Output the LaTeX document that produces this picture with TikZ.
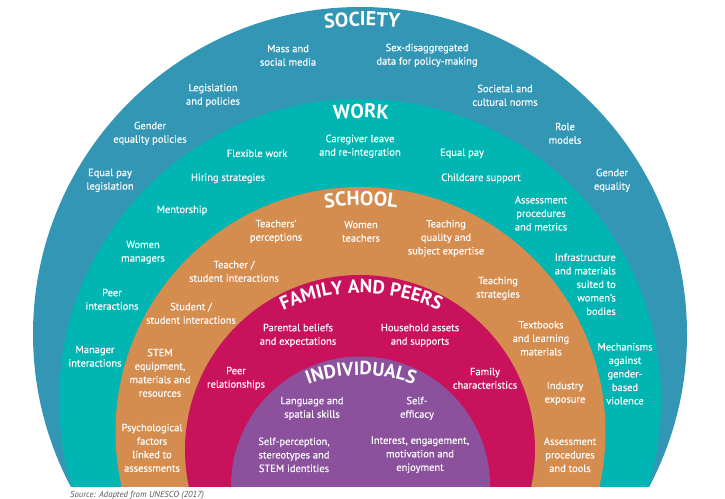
\documentclass[tikz,border=0pt]{standalone}
\usepackage{fontspec}
\setmainfont[FakeBold=0.3]{PT Sans}
\newfontfamily\ttlfamily{PT Sans}
\usetikzlibrary{decorations.text}
\definecolor{societyblue}{HTML}{3396B5}
\definecolor{workteal}{HTML}{00B5B2}
\definecolor{schoolorange}{HTML}{D48C4F}
\definecolor{familyred}{HTML}{C8125C}
\definecolor{indivpurple}{HTML}{8B519C}
\tikzset{
  lbl/.style={text=white,align=center,inner sep=0pt,font=\fontsize{10.5}{13.5}\selectfont},
  lblr/.style={lbl,align=right,anchor=east},
  titlepath/.style={decorate,decoration={text along path,text align=center,text color=white,text={#1}}}
}
\newcommand{\ttlfont}{\ttlfamily\fontsize{20}{20}\selectfont\bfseries}
\newcommand{\ttlsmall}{\ttlfamily\fontsize{19}{20}\selectfont\bfseries}
\begin{document}
\begin{tikzpicture}[x=1pt,y=1pt]
\useasboundingbox (0,0) rectangle (725,498);
\begin{scope}
\clip (0,12) rectangle (725,498);
\fill [societyblue] (360,164) circle (327);
\fill [workteal] (360,98) circle (301);
\fill [schoolorange] (360.5,66) circle (245);
\fill [familyred] (360,48) circle (175);
\fill [indivpurple] (360.5,12) circle (129.5);
\end{scope}

\path [titlepath={|\ttlfont|SOCIETY}] (362,164) ++(120:308) arc (120:60:308);
\path [titlepath={|\ttlfont|WORK}] (361,98) ++(120:282) arc (120:60:282);
\path [titlepath={|\ttlfont|SCHOOL}] (361,66) ++(120:226.5) arc (120:60:226.5);
\path [titlepath={|\ttlsmall|FAMILY AND PEERS}] (361,20) ++(125:185) arc (125:55:185);
\path [titlepath={|\ttlsmall|INDIVIDUALS}] (361,-28) ++(125:151) arc (125:55:151);

\begin{scope}[yshift=-0.3pt]
\node (mass) [lbl] at (288,443) {Mass and\\social media};
\node (sexdata) [lbl] at (427,443) {Sex-disaggregated\\data for policy-making};
\node (legis) [lbl] at (213,403) {Legislation\\and policies};
\node (norms) [lbl] at (505,403) {Societal and\\cultural norms};
\node (genderpol) [lbl] at (150,365) {Gender\\equality policies};
\node (role) [lbl] at (565,365) {Role\\models};
\node (paylegis) [lbl] at (110,318) {Equal pay\\legislation};
\node (gendereq) [lbl] at (612,318) {Gender\\equality};

\node (caregiver) [lbl] at (360,352) {Caregiver leave\\and re-integration};
\node (flexible) [lbl] at (257,345) {Flexible work};
\node (equalpay) [lbl] at (462,345) {Equal pay};
\node (hiring) [lbl] at (228,320) {Hiring strategies};
\node (childcare) [lbl] at (481,320) {Childcare support};
\node (mentor) [lbl] at (182,288) {Mentorship};
\node (metrics) [lbl] at (541,285) {Assessment\\procedures\\and metrics};
\node (managers) [lbl] at (143,246) {Women\\managers};
\node (infra) [lblr] at (616,214) {Infrastructure\\and materials\\suited to\\women's\\bodies};
\node (peerint) [lbl] at (112,199) {Peer\\interactions};
\node (mech) [lbl] at (625,124.5) {Mechanisms\\against\\gender-\\based\\violence};
\node (manager) [lbl] at (95,142) {Manager\\interactions};

\node (perceptions) [lbl] at (276,267) {Teachers'\\perceptions};
\node (womenteach) [lbl] at (361,267) {Women\\teachers};
\node (quality) [lbl] at (446,260) {Teaching\\quality and\\subject expertise};
\node (teacherint) [lbl] at (234,227) {Teacher /\\student interactions};
\node (strategies) [lbl] at (498,210) {Teaching\\strategies};
\node (studentint) [lbl] at (191,185) {Student /\\student interactions};
\node (textbooks) [lbl] at (541,160) {Textbooks\\and learning\\materials};
\node (stem) [lbl] at (160,125.5) {STEM\\equipment,\\materials and\\resources};
\node (industry) [lbl] at (565,105) {Industry\\exposure};
\node (psych) [lbl] at (152,50.5) {Psychological\\factors\\linked to\\assessments};
\node (tools) [lbl] at (570,43.5) {Assessment\\procedures\\and tools};

\node (parental) [lbl] at (298,163) {Parental beliefs\\and expectations};
\node (household) [lbl] at (420,163) {Household assets\\and supports};
\node (peerrel) [lbl] at (236,120) {Peer\\relationships};
\node (familychar) [lbl] at (485,120) {Family\\characteristics};

\node (language) [lbl] at (312,90) {Language and\\spatial skills};
\node (efficacy) [lbl] at (417,90) {Self-\\efficacy};
\node (selfperc) [lbl] at (294,43.5) {Self-perception,\\stereotypes and\\STEM identities};
\node (interest) [lbl] at (420,43.5) {Interest, engagement,\\motivation and\\enjoyment};
\end{scope}

\node (source) [anchor=base west,inner sep=0pt,text=black!65,font=\ttlfamily\fontsize{8.7}{10}\selectfont\itshape] at (70,0.3) {Source: Adapted from UNESCO (2017)};
\end{tikzpicture}
\end{document}
